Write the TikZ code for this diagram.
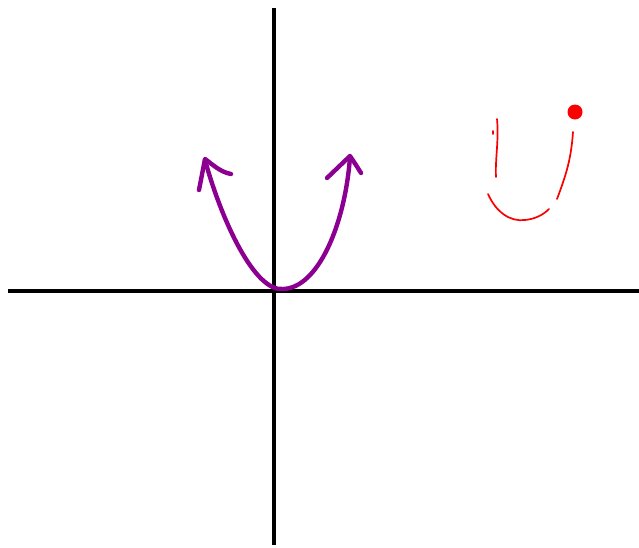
\documentclass[tikz,border=0pt]{standalone}
\usepackage{tikz}

\definecolor{penpurple}{RGB}{140,0,145}
\definecolor{penred}{RGB}{250,0,0}

\begin{document}
\begin{tikzpicture}[x=1pt, y=-1pt,
    axis/.style={line width=3.6pt, black},
    curvepen/.style={line width=4.4pt, penpurple, line cap=round, line join=round},
    sketchpen/.style={line width=1.7pt, penred, line cap=round}]
    \useasboundingbox (0,0) rectangle (639,547);
    % Axes
    \draw[axis] (8,291) -- (639,291);
    \draw[axis] (274,8) -- (274,545);
    % Parabola with drawn heads
    \draw[curvepen] (205,160) .. controls (222,222) and (255,292) .. (283,289)
      .. controls (318,288) and (345,225) .. (350,157);
    \draw[curvepen] (199,190) -- (205,159) .. controls (212,164) and (220,172) .. (231,174);
    \draw[curvepen] (327,178) -- (350,156) .. controls (354,162) and (358,168) .. (361,173);
    % Sketch on the right
    \fill[penred] (575,112) circle (7.5);
    \draw[sketchpen] (497,119) .. controls (499,140) and (495,160) .. (496,177);
    \draw[sketchpen] (493,131) -- (493,134);
    \draw[sketchpen] (573,132) .. controls (571,160) and (566,175) .. (557,199);
    \draw[sketchpen] (488,194) .. controls (496,212) and (510,222) .. (525,220)
      .. controls (535,219) and (543,215) .. (549,209);
\end{tikzpicture}
\end{document}
